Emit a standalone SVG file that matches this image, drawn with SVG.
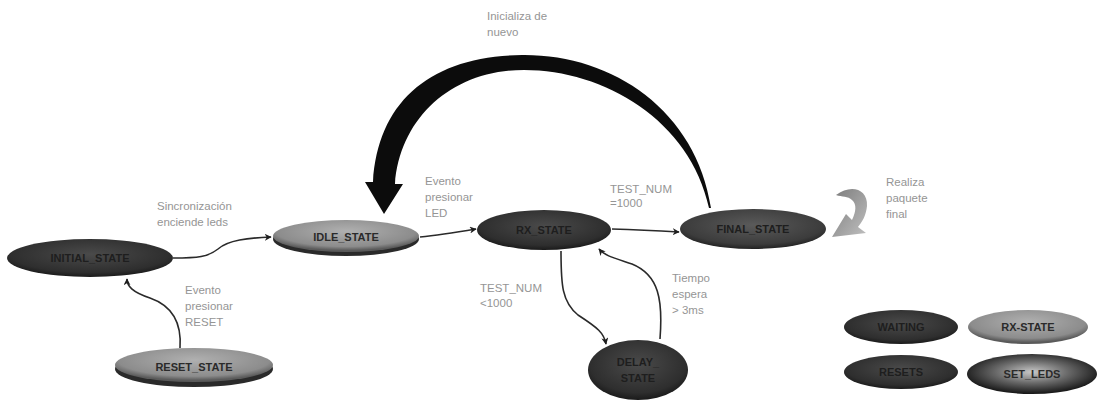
<svg xmlns="http://www.w3.org/2000/svg" width="1103" height="405" viewBox="0 0 1103 405">
<style>
.lbl{font-family:"Liberation Sans",Arial,sans-serif;font-size:11.5px;fill:#959595;}
.nt{font-family:"Liberation Sans",Arial,sans-serif;font-size:11px;font-weight:bold;text-anchor:middle;}
.dk{fill:#1e1e1e;}
.lt{fill:#2a2a2a;}
.conn{fill:none;stroke:#2a2a2a;stroke-width:1.6;marker-end:url(#ah);}
</style>
<defs>
<marker id="ah" viewBox="0 0 10 10" refX="9" refY="5" markerWidth="7" markerHeight="7" orient="auto" markerUnits="userSpaceOnUse">
<path d="M0,0 L10,5 L0,10 L3,5 Z" fill="#1e1e1e"/>
</marker>
<radialGradient id="gDark" cx="50%" cy="40%" r="60%">
<stop offset="0" stop-color="#4a4a4a"/><stop offset="0.8" stop-color="#2e2e2e"/><stop offset="1" stop-color="#1a1a1a"/>
</radialGradient>
<radialGradient id="gMid" cx="50%" cy="40%" r="60%">
<stop offset="0" stop-color="#5a5a5a"/><stop offset="0.8" stop-color="#3c3c3c"/><stop offset="1" stop-color="#222"/>
</radialGradient>
<radialGradient id="gGrey" cx="50%" cy="35%" r="60%">
<stop offset="0" stop-color="#b0b0b0"/><stop offset="0.8" stop-color="#8c8c8c"/><stop offset="1" stop-color="#5a5a5a"/>
</radialGradient>
<radialGradient id="gSet" cx="50%" cy="45%" r="55%">
<stop offset="0" stop-color="#c8c8c8"/><stop offset="0.5" stop-color="#6a6a6a"/><stop offset="1" stop-color="#151515"/>
</radialGradient>
<linearGradient id="gLoop" x1="0" y1="0" x2="1" y2="1">
<stop offset="0" stop-color="#7a7a7a"/><stop offset="1" stop-color="#c0c0c0"/>
</linearGradient>
</defs>

<g id="connectors">
<path class="conn" d="M173,258 C198,258 208,257 218,249 C228,240 248,238 271,237"/>
<path class="conn" d="M180,348 C182,320 170,305 150,298 C132,292 127,286 127,279"/>
<path class="conn" d="M420,237 C440,235 458,232 476,229"/>
<path class="conn" d="M612,229 C640,230 660,231 679,232"/>
<path class="conn" d="M561,251 C561,285 562,302 578,315 C598,328 604,333 606,344"/>
<path class="conn" d="M660,339 C663,300 659,275 632,264 C614,258 605,256 599,249"/>
<path id="bigArrow" fill="#0c0c0c" d="M711,208 C696,110 612,54 522,55 C432,56 378,100 373,182 L365,182 L384,214 L403,184 L395,184 C400,118 452,70 524,70 C604,70 690,120 709,208 Z"/>
<path id="selfLoop" fill="url(#gLoop)" d="M836,195 C850,184 868,188 867,206 C866,216 862,222 858,227 L866,233 L832,237 L846,214 L852,220 C856,212 857,204 852,200 C848,196 842,197 836,195 Z"/>
</g>

<g id="INITIAL_STATE">
<ellipse cx="90" cy="258" rx="83" ry="19" fill="url(#gDark)"/>
<text class="nt dk" x="90" y="262">INITIAL_STATE</text>
</g>
<g id="IDLE_STATE">
<ellipse cx="346" cy="239" rx="73" ry="17" fill="#2a2a2a"/>
<ellipse cx="346" cy="236" rx="73" ry="16" fill="url(#gGrey)"/>
<text class="nt lt" x="346" y="241">IDLE_STATE</text>
</g>
<g id="RX_STATE">
<ellipse cx="544" cy="230" rx="67" ry="20" fill="url(#gDark)"/>
<text class="nt dk" x="544" y="234">RX_STATE</text>
</g>
<g id="FINAL_STATE">
<ellipse cx="753" cy="229" rx="73" ry="20" fill="url(#gMid)"/>
<text class="nt dk" x="753" y="233">FINAL_STATE</text>
</g>
<g id="RESET_STATE">
<ellipse cx="194" cy="369" rx="79" ry="18" fill="#2a2a2a"/>
<ellipse cx="194" cy="365" rx="79" ry="17" fill="url(#gGrey)"/>
<text class="nt lt" x="194" y="371">RESET_STATE</text>
</g>
<g id="DELAY_STATE">
<ellipse cx="638" cy="370" rx="50" ry="30" fill="url(#gDark)"/>
<text class="nt dk" x="638" y="366">DELAY_</text>
<text class="nt dk" x="638" y="382">STATE</text>
</g>

<g id="legend_WAITING">
<ellipse cx="901" cy="327" rx="57" ry="17" fill="url(#gDark)"/>
<text class="nt dk" x="901" y="331">WAITING</text>
</g>
<g id="legend_RX-STATE">
<ellipse cx="1028" cy="327" rx="60" ry="17" fill="url(#gGrey)"/>
<text class="nt lt" x="1028" y="331">RX-STATE</text>
</g>
<g id="legend_RESETS">
<ellipse cx="901" cy="372" rx="57" ry="17" fill="url(#gDark)"/>
<text class="nt dk" x="901" y="376">RESETS</text>
</g>
<g id="legend_SET_LEDS">
<ellipse cx="1032" cy="374" rx="65" ry="20" fill="url(#gSet)"/>
<text class="nt lt" x="1032" y="378">SET_LEDS</text>
</g>

<g id="labels">
<text class="lbl" x="157" y="210">Sincronización</text>
<text class="lbl" x="157" y="226">enciende leds</text>
<text class="lbl" x="185" y="294">Evento</text>
<text class="lbl" x="185" y="310">presionar</text>
<text class="lbl" x="185" y="326">RESET</text>
<text class="lbl" x="425" y="185">Evento</text>
<text class="lbl" x="425" y="201">presionar</text>
<text class="lbl" x="425" y="217">LED</text>
<text class="lbl" x="610" y="193">TEST_NUM</text>
<text class="lbl" x="610" y="207">=1000</text>
<text class="lbl" x="487" y="20">Inicializa de</text>
<text class="lbl" x="487" y="36">nuevo</text>
<text class="lbl" x="480" y="292">TEST_NUM</text>
<text class="lbl" x="480" y="307">&lt;1000</text>
<text class="lbl" x="672" y="282">Tiempo</text>
<text class="lbl" x="672" y="298">espera</text>
<text class="lbl" x="672" y="314">&gt; 3ms</text>
<text class="lbl" x="886" y="186">Realiza</text>
<text class="lbl" x="886" y="202">paquete</text>
<text class="lbl" x="886" y="218">final</text>
</g>
</svg>
